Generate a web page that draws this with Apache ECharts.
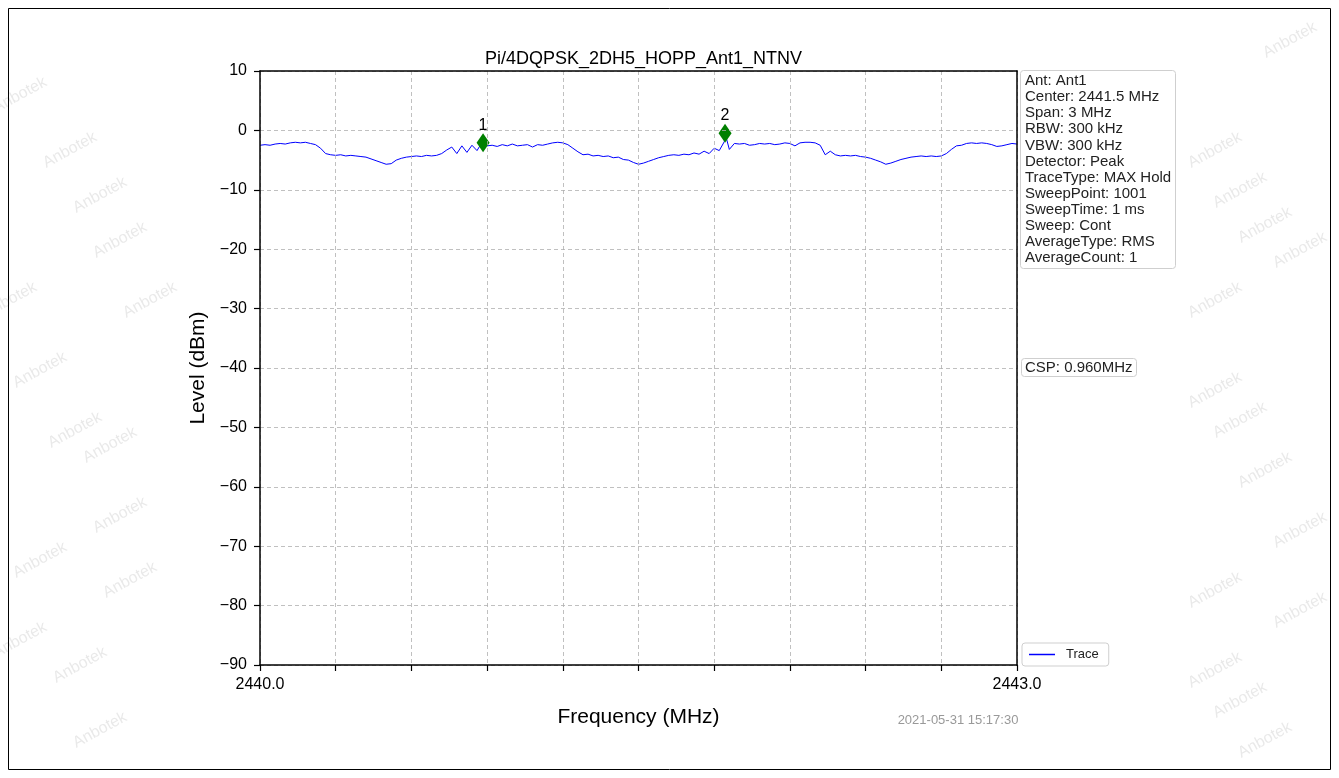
<!DOCTYPE html>
<html><head><meta charset="utf-8">
<script src="https://cdn.jsdelivr.net/npm/echarts@6/dist/echarts.min.js"></script>
<style>html,body{margin:0;padding:0;background:#fff}#c{width:1339px;height:778px}</style>
</head><body><div id="c"></div>
<script>
// ---- data ----
const startFreq = 2440.0;   // MHz
const stepFreq = 0.02;      // MHz between sampled points
const traceLevels = [
  -2.5,-2.4,-2.5,-2.3,-2.2,-2.3,-2.1,-2.0,-2.1,-2.0,
  -2.2,-2.4,-3.0,-3.9,-4.1,-4.2,-4.1,-4.3,-4.2,-4.3,
  -4.4,-4.5,-4.8,-5.1,-5.4,-5.7,-5.6,-5.0,-4.7,-4.5,
  -4.4,-4.3,-4.4,-4.2,-4.3,-4.2,-3.9,-3.3,-2.8,-3.9,
  -2.6,-3.7,-2.5,-3.4,-2.0,-2.6,-2.5,-2.7,-2.4,-2.6,
  -2.3,-2.6,-2.5,-2.4,-2.8,-2.4,-2.5,-2.3,-2.1,-2.0,
  -2.1,-2.4,-3.0,-3.6,-4.1,-4.0,-4.3,-4.2,-4.4,-4.3,
  -4.6,-4.5,-4.9,-5.0,-5.4,-5.7,-5.5,-5.2,-4.9,-4.6,
  -4.4,-4.2,-4.1,-4.2,-4.0,-4.1,-3.8,-4.0,-3.5,-3.9,
  -3.0,-3.4,-1.9,-3.2,-2.2,-2.3,-2.2,-2.5,-2.4,-2.2,
  -2.3,-2.2,-2.4,-2.3,-2.1,-2.2,-2.6,-2.1,-2.0,-2.0,
  -2.1,-2.5,-4.1,-3.5,-4.1,-4.3,-4.2,-4.3,-4.2,-4.4,
  -4.5,-4.7,-5.0,-5.3,-5.7,-5.5,-5.2,-4.9,-4.7,-4.5,
  -4.4,-4.3,-4.4,-4.3,-4.4,-4.3,-3.9,-3.2,-2.6,-2.5,
  -2.2,-2.1,-2.2,-2.1,-2.2,-2.4,-2.7,-2.6,-2.4,-2.2,
  -2.3
];
const markerNames = ['1', '2'];
const markerFreqs = [2440.884, 2441.843];
const markerLevels = [-2.07, -0.5];
const xMin = 2440.0, xMax = 2443.0, xStep = 0.3;
const yMin = -90, yMax = 10, yStep = 10;
const infoLines = [
  'Ant: Ant1', 'Center: 2441.5 MHz', 'Span: 3 MHz', 'RBW: 300 kHz', 'VBW: 300 kHz',
  'Detector: Peak', 'TraceType: MAX Hold', 'SweepPoint: 1001', 'SweepTime: 1 ms',
  'Sweep: Cont', 'AverageType: RMS', 'AverageCount: 1'
];
const cspText = 'CSP: 0.960MHz';
const titleText = 'Pi/4DQPSK_2DH5_HOPP_Ant1_NTNV';
const timeStamp = '2021-05-31 15:17:30';
const watermarkText = 'Anbotek';

// ---- build series ----
const tracePts = traceLevels.map((v, i) => [+(startFreq + i * stepFreq).toFixed(4), v]);
markerFreqs.forEach((f, i) => tracePts.push([f, markerLevels[i]]));
tracePts.sort((a, b) => a[0] - b[0]);
const markerPts = markerFreqs.map((f, i) => ({ value: [f, markerLevels[i]], name: markerNames[i] }));

const FONT = 'Liberation Sans, Arial, sans-serif';
const wmPos = [
  [20,95],[70,150],[100,195],[120,240],[10,300],[150,300],[40,370],[75,430],[110,445],[120,515],
  [40,560],[130,580],[20,640],[80,665],[100,730],
  [1215,150],[1240,190],[1265,225],[1300,250],[1215,300],[1290,40],[1215,390],[1240,420],
  [1265,470],[1300,530],[1215,590],[1300,610],[1215,670],[1240,700],[1265,740]
];
const graphics = wmPos.map(p => ({
  type: 'text', x: p[0], y: p[1], rotation: 0.5, z: -10, silent: true,
  style: { text: watermarkText, fill: 'rgba(120,120,120,0.16)', font: '16px ' + FONT, textAlign: 'center', textVerticalAlign: 'middle' }
}));
graphics.push({ type: 'rect', shape: { x: 8.5, y: 8.5, width: 1322, height: 761 }, z: -5, silent: true,
  style: { fill: 'none', stroke: '#000', lineWidth: 1 } });
graphics.push({ type: 'text', x: 958, y: 720, silent: true,
  style: { text: timeStamp, fill: '#999', font: '13px ' + FONT, textAlign: 'center', textVerticalAlign: 'middle' } });

const chart = echarts.init(document.getElementById('c'), null, { renderer: 'canvas' });
const isEnd = v => Math.abs(v - xMin) < 1e-6 || Math.abs(v - xMax) < 1e-6;
const gridLine = { show: true, lineStyle: { color: '#b0b0b0', type: [4, 3], width: 0.8 } };
const frameAxis = { show: true, onZero: false, lineStyle: { color: '#000', width: 1.5 } };
chart.setOption({
  animation: false,
  backgroundColor: '#fff',
  textStyle: { fontFamily: FONT },
  title: [
    { text: titleText, left: 638.5, top: 45, textAlign: 'center',
      textStyle: { fontFamily: FONT, fontSize: 18, fontWeight: 'normal', color: '#000' } },
    { text: infoLines.join('\n'), left: 1020, top: 70, padding: [3, 5, 3, 5],
      borderColor: '#cfcfcf', borderWidth: 1, borderRadius: 3, backgroundColor: '#fff',
      textStyle: { fontFamily: FONT, fontSize: 15, lineHeight: 16.1, fontWeight: 'normal', color: '#222' } },
    { text: cspText, left: 1021, top: 358, padding: [2, 4, 2, 4],
      borderColor: '#cfcfcf', borderWidth: 1, borderRadius: 3, backgroundColor: '#fff',
      textStyle: { fontFamily: FONT, fontSize: 15, fontWeight: 'normal', color: '#222' } }
  ],
  legend: {
    left: 1022, top: 643, orient: 'vertical', padding: [5, 10, 5, 7],
    borderColor: '#cfcfcf', borderWidth: 1, borderRadius: 3, backgroundColor: '#fff',
    itemWidth: 26, itemHeight: 1.5, itemGap: 10,
    data: [{ name: 'Trace', icon: 'rect' }],
    textStyle: { fontFamily: FONT, fontSize: 13, color: '#222', padding: [0, 0, 0, 6] }
  },
  grid: { left: 260, right: 322, top: 71, bottom: 113, show: false },
  xAxis: [{
    type: 'value', min: xMin, max: xMax, interval: xStep, position: 'bottom',
    name: 'Frequency (MHz)', nameLocation: 'middle', nameGap: 42,
    nameTextStyle: { fontFamily: FONT, fontSize: 21, color: '#000' },
    axisLine: frameAxis,
    axisTick: { show: true, inside: false, length: 6, lineStyle: { color: '#000', width: 1.2 } },
    axisLabel: { show: true, margin: 12, fontFamily: FONT, fontSize: 16, color: '#000', showMinLabel: true, showMaxLabel: true,
      formatter: v => isEnd(v) ? v.toFixed(1) : '' },
    splitLine: gridLine, z: 5
  }, {
    type: 'value', min: xMin, max: xMax, interval: xStep, position: 'top',
    axisLine: frameAxis, axisTick: { show: false }, axisLabel: { show: false }, splitLine: { show: false }, z: 5
  }],
  yAxis: [{
    type: 'value', min: yMin, max: yMax, interval: yStep, position: 'left',
    name: 'Level (dBm)', nameLocation: 'middle', nameGap: 49,
    nameTextStyle: { fontFamily: FONT, fontSize: 21, color: '#000' },
    axisLine: frameAxis,
    axisTick: { show: true, inside: false, length: 6, lineStyle: { color: '#000', width: 1.2 } },
    axisLabel: { margin: 13, fontFamily: FONT, fontSize: 16, color: '#000', formatter: v => String(v).replace('-', '\u2212') },
    splitLine: gridLine, z: 5
  }, {
    type: 'value', min: yMin, max: yMax, interval: yStep, position: 'right',
    axisLine: frameAxis, axisTick: { show: false }, axisLabel: { show: false }, splitLine: { show: false }, z: 5
  }],
  series: [
    { name: 'Trace', type: 'line', data: tracePts, showSymbol: false, symbol: 'none',
      lineStyle: { color: '#0000ff', width: 1 }, itemStyle: { color: '#0000ff' }, z: 2 },
    { name: 'Markers', type: 'scatter', data: markerPts, symbol: 'diamond', symbolSize: [13, 19],
      itemStyle: { color: '#008000', opacity: 1 }, z: 3,
      label: { show: true, position: 'top', distance: 0, formatter: p => p.name, fontFamily: FONT, fontSize: 16, color: '#000' } }
  ],
  graphic: graphics
});
</script>
</body></html>
